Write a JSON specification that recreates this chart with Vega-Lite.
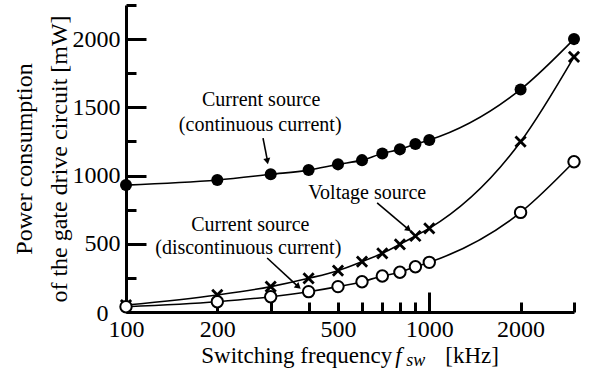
{
  "$schema": "https://vega.github.io/schema/vega-lite/v6.json",
  "width": 448,
  "height": 307,
  "autosize": {"type": "none"},
  "padding": {"left": 126, "top": 5, "right": 15, "bottom": 60},
  "background": "white",
  "config": {"view": {"stroke": null}, "font": "Liberation Serif"},
  "resolve": {"axis": {"x": "independent", "y": "independent"}},
  "datasets": {"main": [
    {"f": 100, "p": 930, "series": "cont"},
    {"f": 200, "p": 967, "series": "cont"},
    {"f": 300, "p": 1009, "series": "cont"},
    {"f": 400, "p": 1040, "series": "cont"},
    {"f": 500, "p": 1082, "series": "cont"},
    {"f": 600, "p": 1113, "series": "cont"},
    {"f": 700, "p": 1162, "series": "cont"},
    {"f": 800, "p": 1192, "series": "cont"},
    {"f": 900, "p": 1231, "series": "cont"},
    {"f": 1000, "p": 1260, "series": "cont"},
    {"f": 2000, "p": 1631, "series": "cont"},
    {"f": 3000, "p": 2000, "series": "cont"},
    {"f": 100, "p": 51, "series": "volt"},
    {"f": 200, "p": 125, "series": "volt"},
    {"f": 300, "p": 186, "series": "volt"},
    {"f": 400, "p": 247, "series": "volt"},
    {"f": 500, "p": 303, "series": "volt"},
    {"f": 600, "p": 369, "series": "volt"},
    {"f": 700, "p": 430, "series": "volt"},
    {"f": 800, "p": 496, "series": "volt"},
    {"f": 900, "p": 557, "series": "volt"},
    {"f": 1000, "p": 613, "series": "volt"},
    {"f": 2000, "p": 1248, "series": "volt"},
    {"f": 3000, "p": 1870, "series": "volt"},
    {"f": 100, "p": 39, "series": "disc"},
    {"f": 200, "p": 75, "series": "disc"},
    {"f": 300, "p": 112, "series": "disc"},
    {"f": 400, "p": 149, "series": "disc"},
    {"f": 500, "p": 186, "series": "disc"},
    {"f": 600, "p": 222, "series": "disc"},
    {"f": 700, "p": 264, "series": "disc"},
    {"f": 800, "p": 291, "series": "disc"},
    {"f": 900, "p": 332, "series": "disc"},
    {"f": 1000, "p": 364, "series": "disc"},
    {"f": 2000, "p": 730, "series": "disc"},
    {"f": 3000, "p": 1101, "series": "disc"}
  ]},
  "layer": [
    {
      "data": {"name": "main"},
      "encoding": {
        "x": {
          "field": "f", "type": "quantitative",
          "scale": {"type": "log", "domain": [100, 3000], "nice": false},
          "axis": {
            "title": null,
            "values": [100, 200, 300, 400, 500, 600, 700, 800, 900, 1000, 2000, 3000],
            "format": "d",
            "labelExpr": "indexof([100,200,500,1000,2000], datum.value) >= 0 ? datum.label : ''",
            "tickSize": {"condition": {"test": "datum.value == 1000", "value": -20}, "value": -10},
            "tickWidth": 3, "tickColor": "black",
            "domainWidth": 3, "domainColor": "black",
            "labelFontSize": 24, "labelColor": "black",
            "labelPadding": {"condition": {"test": "datum.value == 1000", "value": 25}, "value": 15},
            "labelFlush": false, "labelOverlap": false, "grid": false
          }
        },
        "y": {
          "field": "p", "type": "quantitative",
          "scale": {"domain": [0, 2250], "nice": false},
          "axis": {
            "title": ["Power consumption", "of the gate drive circuit [mW]"],
            "titleFontSize": 24, "titleFontWeight": "normal", "titleColor": "black",
            "titleLineHeight": 35, "titlePadding": 1,
            "values": [0, 250, 500, 750, 1000, 1250, 1500, 1750, 2000, 2250],
            "labelExpr": "datum.value % 500 == 0 ? datum.label : ''",
            "format": "d",
            "tickSize": {"condition": {"test": "datum.value % 500 == 0", "value": -20}, "value": -10},
            "tickWidth": 3, "tickColor": "black",
            "domainWidth": 3, "domainColor": "black",
            "labelFontSize": 24, "labelColor": "black",
            "labelPadding": {"condition": {"test": "datum.value == 0", "value": 38}, "value": 26},
            "labelOffset": {"condition": {"test": "datum.value == 0", "value": 1}, "value": 0},
            "labelFlush": false, "labelOverlap": false, "grid": false
          }
        }
      },
      "layer": [
        {"mark": {"type": "line", "interpolate": "monotone", "color": "black", "strokeWidth": 1.6},
         "encoding": {"detail": {"field": "series"}}},
        {"transform": [{"filter": "datum.series == 'cont'"}],
         "mark": {"type": "point", "shape": "circle", "filled": true, "color": "black", "size": 145, "opacity": 1}},
        {"transform": [{"filter": "datum.series == 'volt'"}],
         "mark": {"type": "point", "shape": "M-1,-1L1,1M-1,1L1,-1", "filled": false, "stroke": "black", "strokeWidth": 2.8, "size": 105, "opacity": 1}},
        {"transform": [{"filter": "datum.series == 'disc'"}],
         "mark": {"type": "point", "shape": "circle", "filled": true, "fill": "white", "stroke": "black", "strokeWidth": 2, "size": 130, "opacity": 1}}
      ]
    },
    {"data": {"values": [{}]}, "mark": {"type": "text", "text": "Current source", "fontSize": 20, "baseline": "middle", "align": "center", "color": "black"},
     "encoding": {"x": {"datum": 279, "axis": null}, "y": {"datum": 1553, "axis": null}}},
    {"data": {"values": [{}]}, "mark": {"type": "text", "text": "(continuous current)", "fontSize": 20, "baseline": "middle", "align": "center", "color": "black"},
     "encoding": {"x": {"datum": 277, "axis": null}, "y": {"datum": 1370, "axis": null}}},
    {"data": {"values": [{}]}, "mark": {"type": "text", "text": "Voltage source", "fontSize": 20, "baseline": "middle", "align": "center", "color": "black"},
     "encoding": {"x": {"datum": 624, "axis": null}, "y": {"datum": 872, "axis": null}}},
    {"data": {"values": [{}]}, "mark": {"type": "text", "text": "Current source", "fontSize": 20, "baseline": "middle", "align": "center", "color": "black"},
     "encoding": {"x": {"datum": 257, "axis": null}, "y": {"datum": 637, "axis": null}}},
    {"data": {"values": [{}]}, "mark": {"type": "text", "text": "(discontinuous current)", "fontSize": 20, "baseline": "middle", "align": "center", "color": "black"},
     "encoding": {"x": {"datum": 253, "axis": null}, "y": {"datum": 469, "axis": null}}},
    {"data": {"values": [{}]}, "mark": {"type": "rule", "color": "black", "strokeWidth": 1.6},
     "encoding": {"x": {"datum": 283, "axis": null}, "y": {"datum": 1275, "axis": null}, "x2": {"datum": 292}, "y2": {"datum": 1120}}},
    {"data": {"values": [{}]}, "mark": {"type": "point", "shape": "triangle", "filled": true, "color": "black", "size": 50, "opacity": 1, "angle": 169},
     "encoding": {"x": {"datum": 292, "axis": null}, "y": {"datum": 1112, "axis": null}}},
    {"data": {"values": [{}]}, "mark": {"type": "rule", "color": "black", "strokeWidth": 1.6},
     "encoding": {"x": {"datum": 673, "axis": null}, "y": {"datum": 799, "axis": null}, "x2": {"datum": 850}, "y2": {"datum": 610}}},
    {"data": {"values": [{}]}, "mark": {"type": "point", "shape": "triangle", "filled": true, "color": "black", "size": 50, "opacity": 1, "angle": 129},
     "encoding": {"x": {"datum": 850, "axis": null}, "y": {"datum": 610, "axis": null}}},
    {"data": {"values": [{}]}, "mark": {"type": "rule", "color": "black", "strokeWidth": 1.6},
     "encoding": {"x": {"datum": 292, "axis": null}, "y": {"datum": 396, "axis": null}, "x2": {"datum": 368}, "y2": {"datum": 190}}},
    {"data": {"values": [{}]}, "mark": {"type": "point", "shape": "triangle", "filled": true, "color": "black", "size": 50, "opacity": 1, "angle": 131},
     "encoding": {"x": {"datum": 368, "axis": null}, "y": {"datum": 190, "axis": null}}},
    {"data": {"values": [{}]}, "mark": {"type": "text", "text": "Switching frequency", "fontSize": 23, "baseline": "alphabetic", "align": "right", "color": "black"},
     "encoding": {"x": {"datum": 755, "axis": null}, "y": {"datum": -374, "axis": null}}},
    {"data": {"values": [{}]}, "mark": {"type": "text", "text": "f", "fontSize": 23, "fontStyle": "italic", "baseline": "alphabetic", "align": "left", "color": "black"},
     "encoding": {"x": {"datum": 772, "axis": null}, "y": {"datum": -374, "axis": null}}},
    {"data": {"values": [{}]}, "mark": {"type": "text", "text": "sw", "fontSize": 18, "fontStyle": "italic", "baseline": "alphabetic", "align": "left", "color": "black"},
     "encoding": {"x": {"datum": 840, "axis": null}, "y": {"datum": -396, "axis": null}}},
    {"data": {"values": [{}]}, "mark": {"type": "text", "text": "[kHz]", "fontSize": 23, "baseline": "alphabetic", "align": "left", "color": "black"},
     "encoding": {"x": {"datum": 1129, "axis": null}, "y": {"datum": -374, "axis": null}}}
  ]
}
